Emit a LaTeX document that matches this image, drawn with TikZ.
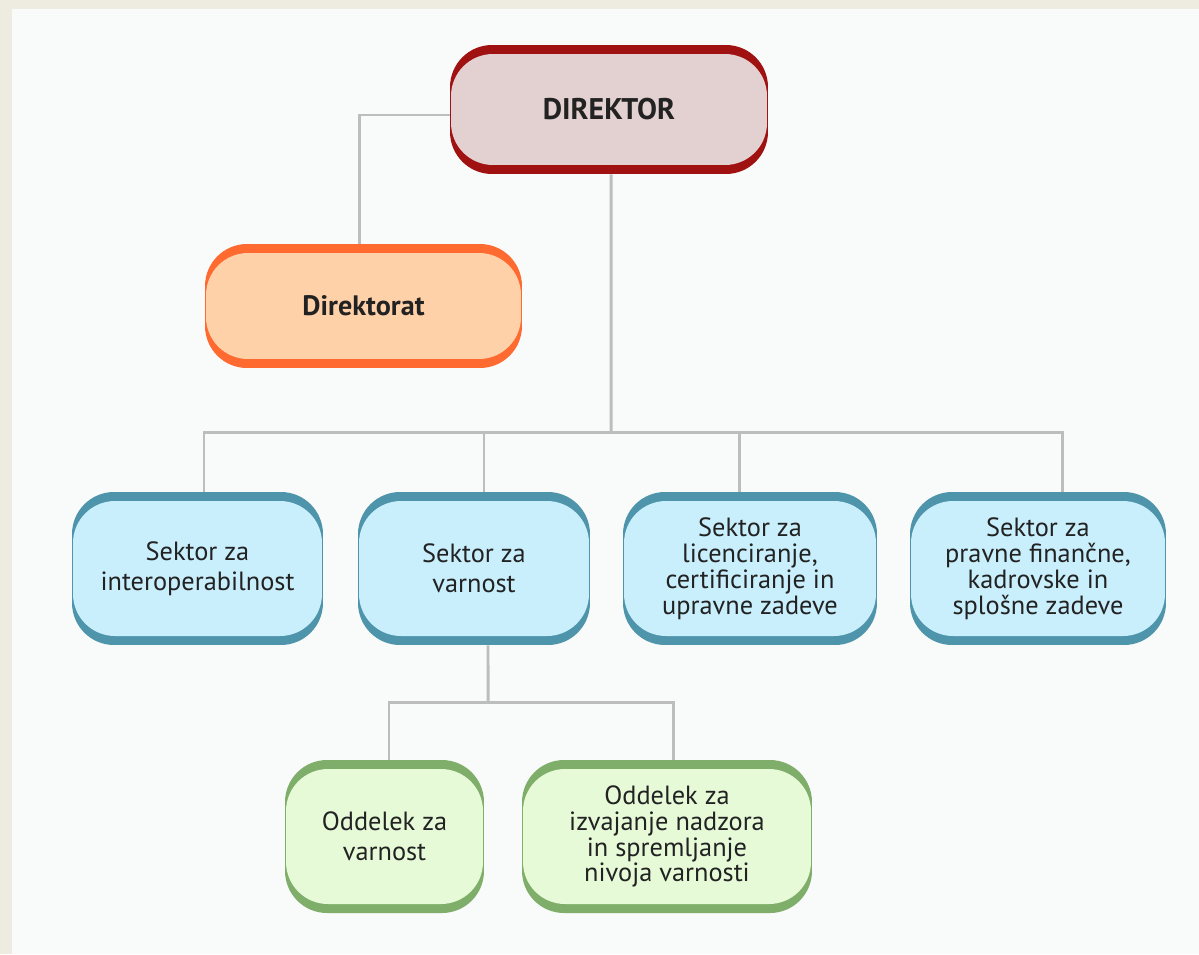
\documentclass[tikz,border=0pt]{standalone}
\usepackage{fontspec}
\setmainfont{PT Sans}
\definecolor{pagebg}{HTML}{EEEBE0}
\definecolor{panelbg}{HTML}{F9FAFA}
\definecolor{linkgray}{HTML}{BDBDBD}
\definecolor{dirline}{HTML}{A01212}
\definecolor{dirfill}{HTML}{E3D0D0}
\definecolor{drtline}{HTML}{FF6A30}
\definecolor{drtfill}{HTML}{FFD1A9}
\definecolor{secline}{HTML}{4E95AB}
\definecolor{secfill}{HTML}{C9EEFC}
\definecolor{oddline}{HTML}{7FAE6A}
\definecolor{oddfill}{HTML}{E6FAD8}
\definecolor{txt}{HTML}{222222}
\begin{document}
\begin{tikzpicture}[x=0.02cm, y=-0.02cm,
  box/.style 2 args={rectangle, rounded corners=0.84cm, fill=#1, inner sep=0pt,
    align=center, text=txt, font=\fontsize{15}{14.7}\selectfont,
    path picture={\fill[#2, rounded corners=0.84cm]
      ([xshift=0.02cm, yshift=-0.18cm]path picture bounding box.north west) rectangle
      ([xshift=-0.02cm, yshift=0.18cm]path picture bounding box.south east);}},
  twoline/.style={font=\fontsize{15}{17.3}\selectfont},
  link/.style={draw=linkgray, line width=1.7pt}]
\useasboundingbox (0,0) rectangle (1199,954);
\fill[pagebg] (0,0) rectangle (1199,954);
\fill[panelbg] (12,9) rectangle (1199,954);
% top
\node[box={dirline}{dirfill}, minimum width=6.36cm, minimum height=2.58cm,
  font=\fontsize{17}{20}\bfseries] (dir) at (609,109.5) {DIREKTOR};
\node[box={drtline}{drtfill}, minimum width=6.34cm, minimum height=2.48cm,
  font=\fontsize{16}{19}\bfseries] (drt) at (363.5,306) {Direktorat};
% sectors
\node[box={secline}{secfill}, twoline, minimum width=5.02cm, minimum height=3.06cm] (sint) at (197.5,568.5) {Sektor za\\interoperabilnost};
\node[box={secline}{secfill}, twoline, minimum width=4.64cm, minimum height=3.06cm] (svar) at (474,568.5) {Sektor za\\varnost};
\node[box={secline}{secfill}, minimum width=5.08cm, minimum height=3.06cm] (slic) at (750,568.5) {Sektor za\\licenciranje,\\certificiranje in\\upravne zadeve};
\node[box={secline}{secfill}, minimum width=5.12cm, minimum height=3.06cm] (sprav) at (1038,568.5) {Sektor za\\pravne finančne,\\kadrovske in\\splošne zadeve};
% departments
\node[box={oddline}{oddfill}, twoline, minimum width=3.98cm, minimum height=3.06cm] (ovar) at (384.5,836.5) {Oddelek za\\varnost};
\node[box={oddline}{oddfill}, minimum width=5.8cm, minimum height=3.06cm] (onad) at (667,836.5) {Oddelek za\\izvajanje nadzora\\in spremljanje\\nivoja varnosti};
% connectors
\coordinate (bus) at (611,432);
\coordinate (subbus) at (488,702);
\draw[link] ([yshift=-0.11cm]dir.west) -| ([xshift=-0.09cm]drt.north);
\draw[link] ([xshift=0.04cm]dir.south) -- (bus);
\draw[link] (bus) -| ([xshift=0.13cm]sint.north);
\draw[link] (bus) -| ([xshift=0.2cm]svar.north);
\draw[link] (bus) -| ([xshift=-0.22cm]slic.north);
\draw[link] (bus) -| ([xshift=0.48cm]sprav.north);
\draw[link] ([xshift=0.28cm]svar.south) -- (subbus);
\draw[link] (subbus) -| ([xshift=0.09cm]ovar.north);
\draw[link] (subbus) -| ([xshift=0.12cm]onad.north);
\end{tikzpicture}
\end{document}
